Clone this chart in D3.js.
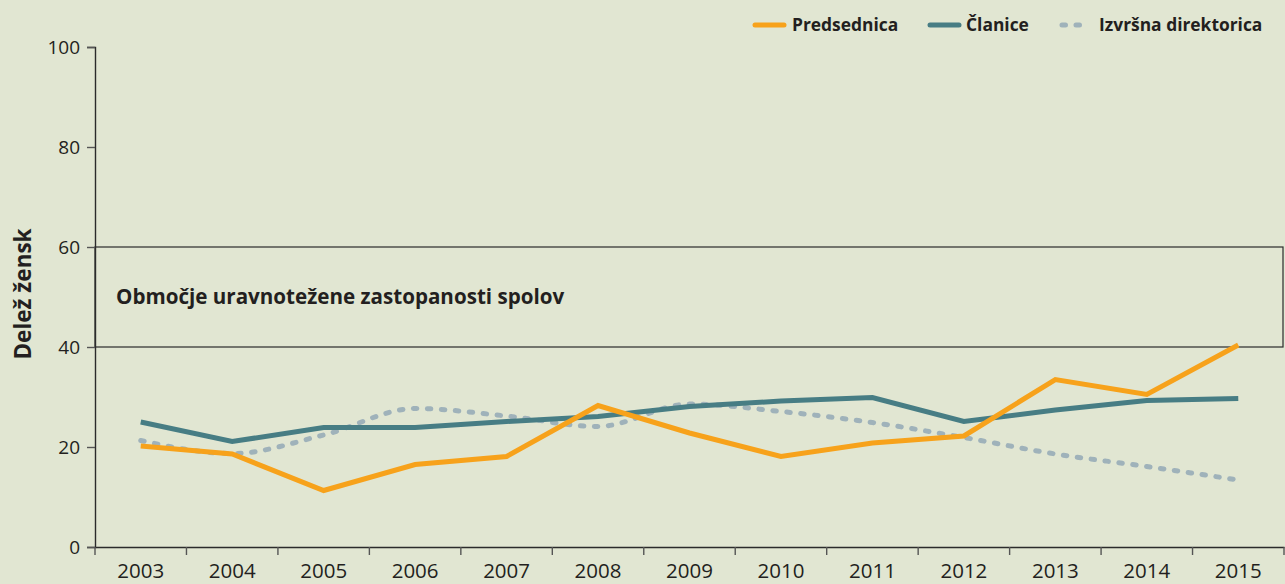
<!DOCTYPE html>
<html><head><meta charset="utf-8">
<script src="https://cdn.jsdelivr.net/npm/d3@7/dist/d3.min.js"></script>
<style>
html,body{margin:0;padding:0;background:#e1e6d2;}
svg{display:block;font-family:"Open Sans",sans-serif;}
</style></head>
<body>
<svg id="chart" width="1285" height="584"></svg>
<script>
const years = ["2003","2004","2005","2006","2007","2008","2009","2010","2011","2012","2013","2014","2015"];
const predsednica = [20.2,18.6,11.3,16.5,18.1,28.3,22.8,18.1,20.8,22.2,33.5,30.5,40.4];
const clanice = [25.0,21.1,23.9,23.9,25.1,26.1,28.1,29.2,29.9,25.1,27.4,29.3,29.7];
const izvrsna = [21.3,18.7,22.4,27.7,26.2,24.1,28.6,27.1,24.9,21.9,18.6,16.1,13.4];
const yTicks = [0,20,40,60,80,100];
const zone = [40,60];
const seriesNames = ["Predsednica","Članice","Izvršna direktorica"];
const zoneLabel = "Območje uravnotežene zastopanosti spolov";
const yLabel = "Delež žensk";

const svg = d3.select("#chart");
const W = 1285, H = 584;
const mLeft = 95, mRight = 1284, mTop = 47, mBottom = 547;
const ink = "#2b2b2b";
const colors = ["#f7a21b","#477d84","#9fb2ba"];

svg.append("rect").attr("width",W).attr("height",H).attr("fill","#e1e6d2");

const x = d3.scaleBand().domain(years).range([mLeft,mRight]).padding(0);
const y = d3.scaleLinear().domain([0,100]).range([mBottom,mTop]);
const cx = d => x(d) + x.bandwidth()/2;

// zone rectangle
svg.append("rect")
  .attr("x", mLeft).attr("y", y(zone[1]))
  .attr("width", mRight - 1 - mLeft).attr("height", y(zone[0]) - y(zone[1]))
  .attr("fill","none").attr("stroke",ink).attr("stroke-width",1.2);

svg.append("text").attr("x",116).attr("y",304)
  .attr("font-size",20.6).attr("font-weight",700).attr("fill","#231f20")
  .text(zoneLabel);

// y axis
const yAxis = svg.append("g").attr("transform",`translate(${mLeft},0)`)
  .call(d3.axisLeft(y).tickValues(yTicks).tickSize(8).tickPadding(7));
yAxis.select(".domain").attr("stroke",ink).attr("stroke-width",1.4);
yAxis.selectAll(".tick line").attr("stroke","#555").attr("stroke-width",1.4);
yAxis.selectAll("text").attr("font-size",19).attr("fill","#231f20").attr("font-family","Open Sans");

// x axis
const xAxis = svg.append("g").attr("transform",`translate(0,${mBottom})`)
  .call(d3.axisBottom(x).tickSize(0).tickPadding(31));
xAxis.select(".domain").attr("stroke",ink).attr("stroke-width",1.4);
xAxis.selectAll("text").attr("font-size",20.5).attr("fill","#231f20").attr("font-family","Open Sans").attr("dy","0");
const bounds = years.map(d => x(d)).concat([mRight]);
xAxis.selectAll(".btick").data(bounds).join("line").attr("class","btick")
  .attr("x1",d=>d).attr("x2",d=>d).attr("y1",0).attr("y2",8)
  .attr("stroke","#555").attr("stroke-width",1.4);

// y label
svg.append("text")
  .attr("transform",`translate(31,294) rotate(-90)`)
  .attr("text-anchor","middle").attr("font-size",22.5).attr("font-weight",700).attr("fill","#231f20")
  .text(yLabel);

// lines
const lineLin = d3.line().x((d,i)=>cx(years[i])).y(d=>y(d));
const lineSmooth = d3.line().x((d,i)=>cx(years[i])).y(d=>y(d)).curve(d3.curveMonotoneX);

svg.append("path").datum(izvrsna).attr("d",lineSmooth)
  .attr("fill","none").attr("stroke",colors[2]).attr("stroke-width",5)
  .attr("stroke-linecap","round").attr("stroke-dasharray","3.5,10.5");
svg.append("path").datum(clanice).attr("d",lineLin)
  .attr("fill","none").attr("stroke",colors[1]).attr("stroke-width",5).attr("stroke-linejoin","miter");
svg.append("path").datum(predsednica).attr("d",lineLin)
  .attr("fill","none").attr("stroke",colors[0]).attr("stroke-width",5).attr("stroke-linejoin","miter");

// legend
const leg = [
  {x1:755,x2:784,tx:792,dash:null},
  {x1:930,x2:959,tx:966,dash:null},
  {x1:1062,x2:1085,tx:1099,dash:"3.5,10.5"}
];
leg.forEach((l,i)=>{
  const ln = svg.append("line").attr("x1",l.x1).attr("x2",l.x2).attr("y1",25).attr("y2",25)
    .attr("stroke",colors[i]).attr("stroke-width",5).attr("stroke-linecap","round");
  if(l.dash) ln.attr("stroke-dasharray",l.dash);
  svg.append("text").attr("x",l.tx).attr("y",31).attr("font-size",17.4).attr("font-weight",700)
    .attr("fill","#231f20").text(seriesNames[i]);
});
</script>
</body></html>
